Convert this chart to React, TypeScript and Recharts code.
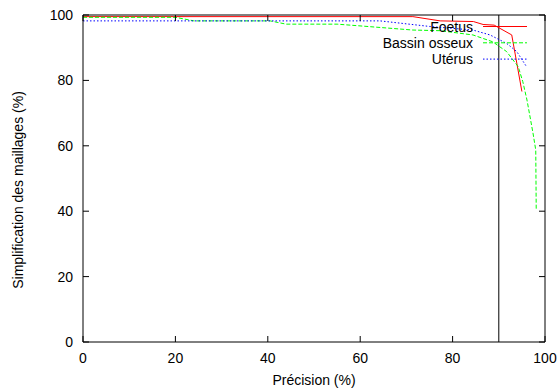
import React from 'react';
import { LineChart, Line, XAxis, YAxis, ReferenceLine, Legend } from 'recharts';

const FONT = '"Liberation Sans", Arial, Helvetica, sans-serif';

const xTicks = [0, 20, 40, 60, 80, 100];
const yTicks = [0, 20, 40, 60, 80, 100];

const foetusX = [0, 71.4, 77.3, 84.5, 86.6, 89, 92.8, 95];
const foetusY = [99.5, 99.5, 98.2, 98.0, 97.1, 96.9, 93.9, 76.6];

const bassinX = [0, 20, 24, 40.5, 44, 55, 60.6, 71.4, 77.3, 84.4, 88.7, 91.7, 94.2, 95.2, 96.1, 97.4, 98, 98.1];
const bassinY = [99.3, 99.3, 98.2, 98.2, 97.2, 97.2, 96.6, 95.4, 95.2, 93.9, 91.8, 88.8, 84.2, 79.6, 74.0, 63.9, 58.7, 40.4];

const uterusX = [0, 64.3, 75, 84.4, 88.1, 91.7, 93.9, 96];
const uterusY = [98.2, 98.2, 96.5, 95.4, 93.9, 91.3, 88.8, 84.2];

const seuil = 90;

const PLOT_TOP = 15;
const PLOT_BOTTOM = 342;
const PLOT_LEFT = 83;
const PLOT_RIGHT = 545;
const TICK = 6;

const toData = (xs: number[], ys: number[]) => xs.map((x, i) => ({ x, y: ys[i] }));

const series = [
  { name: 'Foetus', data: toData(foetusX, foetusY), color: '#ff0000', dash: undefined as string | undefined },
  { name: 'Bassin osseux', data: toData(bassinX, bassinY), color: '#00ff00', dash: '4 2' },
  { name: 'Utérus', data: toData(uterusX, uterusY), color: '#0000ff', dash: '1.5 2' },
];

const XTick = (props: any) => {
  const { x, payload } = props;
  return (
    <g>
      <line x1={x} x2={x} y1={PLOT_BOTTOM} y2={PLOT_BOTTOM - TICK} stroke="#000" />
      <line x1={x} x2={x} y1={PLOT_TOP} y2={PLOT_TOP + TICK} stroke="#000" />
      <text x={x} y={PLOT_BOTTOM + 11} dy="0.71em" textAnchor="middle" fontFamily={FONT} fontSize={14} fill="#000">
        {payload.value}
      </text>
    </g>
  );
};

const YTick = (props: any) => {
  const { y, payload } = props;
  return (
    <g>
      <line x1={PLOT_LEFT} x2={PLOT_LEFT + TICK} y1={y} y2={y} stroke="#000" />
      <line x1={PLOT_RIGHT} x2={PLOT_RIGHT - TICK} y1={y} y2={y} stroke="#000" />
      <text x={PLOT_LEFT - 10} y={y} dy="0.355em" textAnchor="end" fontFamily={FONT} fontSize={14} fill="#000">
        {payload.value}
      </text>
    </g>
  );
};

const LegendBox = () => (
  <svg width={560} height={80} style={{ display: 'block', overflow: 'visible' }}>
    {series.map((s, i) => (
      <g key={s.name}>
        <text
          x={473}
          y={27 + i * 16}
          textAnchor="end"
          dominantBaseline="central"
          fontFamily={FONT}
          fontSize={14}
          fill="#000"
        >
          {s.name}
        </text>
        <line
          x1={483}
          x2={527}
          y1={26.5 + i * 16.3}
          y2={26.5 + i * 16.3}
          stroke={s.color}
          strokeWidth={1}
          strokeDasharray={s.dash}
        />
      </g>
    ))}
  </svg>
);

const YTitle = () => (
  <text
    x={18}
    y={190}
    transform="rotate(-90 18 190)"
    textAnchor="middle"
    dominantBaseline="central"
    fontFamily={FONT}
    fontSize={14}
    fill="#000"
  >
    Simplification des maillages (%)
  </text>
);

export default function App() {
  return (
    <div style={{ position: 'absolute', left: 0, top: 0, width: 560, height: 392, background: '#fff' }}>
      <LineChart width={560} height={392} margin={{ top: PLOT_TOP, right: 560 - PLOT_RIGHT, bottom: 0, left: 0 }}>
        <XAxis
          type="number"
          dataKey="x"
          domain={[0, 100]}
          ticks={xTicks}
          interval={0}
          height={392 - PLOT_BOTTOM}
          tickLine={false}
          tickSize={0}
          tickMargin={0}
          stroke="#000"
          tick={<XTick />}
          label={{ value: 'Précision (%)', position: 'insideBottom', offset: 7, fill: '#000', fontSize: 14, fontFamily: FONT }}
        />
        <YAxis
          type="number"
          domain={[0, 100]}
          ticks={yTicks}
          interval={0}
          width={PLOT_LEFT}
          tickLine={false}
          tickSize={0}
          tickMargin={0}
          stroke="#000"
          tick={<YTick />}
        />
        <ReferenceLine y={100} stroke="#000" strokeWidth={1} />
        <ReferenceLine x={100} stroke="#000" strokeWidth={1} />
        <ReferenceLine x={seuil} stroke="#000" strokeWidth={1} />
        {series.map((s) => (
          <Line
            key={s.name}
            data={s.data}
            dataKey="y"
            name={s.name}
            type="linear"
            stroke={s.color}
            strokeWidth={1}
            strokeDasharray={s.dash}
            dot={false}
            activeDot={false}
            isAnimationActive={false}
          />
        ))}
        <Legend
          layout="vertical"
          align="center"
          verticalAlign="middle"
          wrapperStyle={{ position: 'absolute', left: 0, top: 0, width: 560, height: 80 }}
          content={() => <LegendBox />}
        />
        <YTitle />
      </LineChart>
    </div>
  );
}
